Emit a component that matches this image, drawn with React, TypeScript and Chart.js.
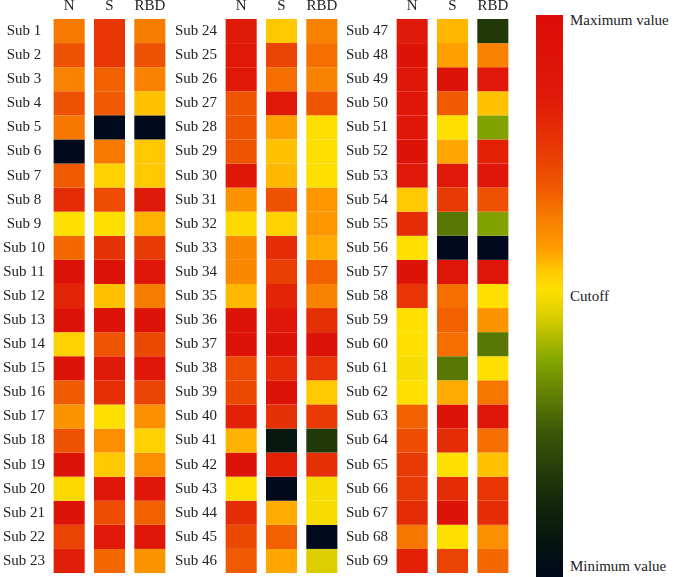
import React, { useEffect, useRef } from 'react';
import { Chart, registerables } from 'chart.js';

Chart.register(...registerables);

const columns = ['N', 'S', 'RBD'];

const subjects = [
  'Sub 1', 'Sub 2', 'Sub 3', 'Sub 4', 'Sub 5', 'Sub 6', 'Sub 7', 'Sub 8', 'Sub 9', 'Sub 10',
  'Sub 11', 'Sub 12', 'Sub 13', 'Sub 14', 'Sub 15', 'Sub 16', 'Sub 17', 'Sub 18', 'Sub 19', 'Sub 20',
  'Sub 21', 'Sub 22', 'Sub 23', 'Sub 24', 'Sub 25', 'Sub 26', 'Sub 27', 'Sub 28', 'Sub 29', 'Sub 30',
  'Sub 31', 'Sub 32', 'Sub 33', 'Sub 34', 'Sub 35', 'Sub 36', 'Sub 37', 'Sub 38', 'Sub 39', 'Sub 40',
  'Sub 41', 'Sub 42', 'Sub 43', 'Sub 44', 'Sub 45', 'Sub 46', 'Sub 47', 'Sub 48', 'Sub 49', 'Sub 50',
  'Sub 51', 'Sub 52', 'Sub 53', 'Sub 54', 'Sub 55', 'Sub 56', 'Sub 57', 'Sub 58', 'Sub 59', 'Sub 60',
  'Sub 61', 'Sub 62', 'Sub 63', 'Sub 64', 'Sub 65', 'Sub 66', 'Sub 67', 'Sub 68', 'Sub 69',
];

// Relative levels (0 = minimum value, 0.5 = cutoff, 1 = maximum value)
const nValues = [
  0.645, 0.71, 0.63, 0.71, 0.65, 0.0, 0.69, 0.8, 0.51, 0.67,
  0.93, 0.82, 0.93, 0.53, 0.93, 0.69, 0.6, 0.71, 0.93, 0.52,
  0.92, 0.74, 0.84,
  0.85, 0.87, 0.87, 0.7, 0.7, 0.7, 0.88, 0.6, 0.52, 0.62,
  0.62, 0.56, 0.93, 0.93, 0.72, 0.73, 0.83, 0.565, 0.92, 0.51,
  0.8, 0.73, 0.69,
  0.85, 0.92, 0.88, 0.89, 0.89, 0.92, 0.87, 0.545, 0.8, 0.51,
  0.92, 0.77, 0.51, 0.51, 0.5, 0.51, 0.68, 0.72, 0.76, 0.76,
  0.8, 0.65, 0.83,
];

const sValues = [
  0.77, 0.77, 0.68, 0.69, 0.0, 0.645, 0.53, 0.72, 0.51, 0.78,
  0.92, 0.55, 0.93, 0.7, 0.85, 0.79, 0.51, 0.61, 0.545, 0.88,
  0.72, 0.86, 0.67,
  0.545, 0.74, 0.66, 0.87, 0.58, 0.55, 0.56, 0.71, 0.53, 0.8,
  0.75, 0.82, 0.89, 0.92, 0.8, 0.92, 0.79, 0.07, 0.83, 0.0,
  0.57, 0.68, 0.575,
  0.56, 0.58, 0.92, 0.69, 0.51, 0.575, 0.87, 0.76, 0.31, 0.0,
  0.9, 0.66, 0.68, 0.66, 0.31, 0.57, 0.92, 0.8, 0.51, 0.8,
  0.92, 0.51, 0.74,
];

const rbdValues = [
  0.64, 0.71, 0.63, 0.55, 0.0, 0.545, 0.545, 0.85, 0.565, 0.76,
  0.9, 0.64, 0.93, 0.73, 0.9, 0.74, 0.61, 0.53, 0.61, 0.89,
  0.68, 0.89, 0.6,
  0.63, 0.66, 0.63, 0.7, 0.51, 0.51, 0.51, 0.595, 0.595, 0.57,
  0.68, 0.63, 0.79, 0.92, 0.77, 0.545, 0.76, 0.18, 0.79, 0.5,
  0.5, 0.0, 0.465,
  0.18, 0.63, 0.87, 0.55, 0.38, 0.83, 0.88, 0.71, 0.38, 0.0,
  0.9, 0.51, 0.6, 0.31, 0.51, 0.65, 0.88, 0.66, 0.55, 0.77,
  0.8, 0.61, 0.67,
];

const scaleLabels = ['Maximum value', 'Cutoff', 'Minimum value'];

const colorStops: [number, string][] = [
  [0, '#000a1c'],
  [0.06, '#061410'],
  [0.14, '#142a0a'],
  [0.26, '#3c5808'],
  [0.39, '#88a800'],
  [0.46, '#d8cc00'],
  [0.51, '#fde000'],
  [0.545, '#ffc800'],
  [0.58, '#ffa000'],
  [0.635, '#f88000'],
  [0.69, '#f05a00'],
  [0.76, '#e83a04'],
  [0.85, '#e01a08'],
  [1, '#dc0c08'],
];

function hexToRgb(h: string) {
  return [parseInt(h.slice(1, 3), 16), parseInt(h.slice(3, 5), 16), parseInt(h.slice(5, 7), 16)];
}

function colorFor(v: number) {
  const t = Math.max(0, Math.min(1, v));
  for (let i = 1; i < colorStops.length; i++) {
    const [v1, c1] = colorStops[i];
    if (t <= v1) {
      const [v0, c0] = colorStops[i - 1];
      const f = (t - v0) / (v1 - v0);
      const a = hexToRgb(c0);
      const b = hexToRgb(c1);
      const m = a.map((x, k) => Math.round(x + (b[k] - x) * f));
      return `rgb(${m[0]},${m[1]},${m[2]})`;
    }
  }
  return colorStops[colorStops.length - 1][1];
}

const FONT_FAMILY = '"Liberation Serif", "Times New Roman", serif';
const TEXT_COLOR = '#222';
const ROWS_PER_PANEL = 23;

function Panel({ start, left }: { start: number; left: number }) {
  const ref = useRef<HTMLCanvasElement>(null);
  useEffect(() => {
    const rows = subjects.slice(start, start + ROWS_PER_PANEL);
    const datasets = rows.map((name, i) => ({
      label: name,
      data: columns.map(() => 1),
      backgroundColor: [nValues[start + i], sValues[start + i], rbdValues[start + i]].map(colorFor),
      borderWidth: 0,
      barPercentage: 0.77,
      categoryPercentage: 1,
    }));
    const chart = new Chart(ref.current as HTMLCanvasElement, {
      type: 'bar',
      data: { labels: columns, datasets },
      options: {
        animation: false,
        responsive: false,
        devicePixelRatio: 1,
        layout: { padding: { left: 0, right: 0, top: 0, bottom: 4 } },
        plugins: { legend: { display: false }, tooltip: { enabled: false } },
        scales: {
          x: {
            position: 'top',
            stacked: true,
            grid: { display: false, drawTicks: false },
            border: { display: false },
            ticks: { font: { family: FONT_FAMILY, size: 15 }, color: TEXT_COLOR, padding: 4, maxRotation: 0 },
            afterFit: (s: any) => {
              s.height = 19;
              s.paddingLeft = 0;
              s.paddingRight = 0;
            },
          },
          y: {
            type: 'linear',
            stacked: true,
            min: 0,
            max: ROWS_PER_PANEL,
            reverse: true,
            grid: { display: false, drawTicks: false },
            border: { display: false },
            ticks: {
              font: { family: FONT_FAMILY, size: 15 },
              color: TEXT_COLOR,
              crossAlign: 'center',
              padding: 4,
              autoSkip: false,
              callback: (_v: any, idx: number) => rows[idx],
            },
            afterBuildTicks: (s: any) => {
              s.ticks = rows.map((_, i) => ({ value: i + 0.5 }));
            },
            afterFit: (s: any) => {
              s.width = 49;
              s.paddingTop = 0;
              s.paddingBottom = 0;
            },
          },
        },
      } as any,
    });
    return () => chart.destroy();
  }, [start]);
  return (
    <canvas
      ref={ref}
      width={170}
      height={577}
      style={{ position: 'absolute', left, top: 0, width: 170, height: 577 }}
    />
  );
}

function ColorBar() {
  const gradient = `linear-gradient(to top, ${colorStops
    .map(([v, c]) => `${c} ${(v * 100).toFixed(1)}%`)
    .join(', ')})`;
  const labelStyle: React.CSSProperties = {
    position: 'absolute',
    left: 570,
    fontFamily: FONT_FAMILY,
    fontSize: 15,
    lineHeight: '18px',
    color: TEXT_COLOR,
    whiteSpace: 'nowrap',
    transform: 'translateY(-50%)',
  };
  return (
    <>
      <div style={{ position: 'absolute', left: 536, top: 15, width: 27, height: 562, background: gradient }} />
      <span style={{ ...labelStyle, top: 20 }}>{scaleLabels[0]}</span>
      <span style={{ ...labelStyle, top: 296 }}>{scaleLabels[1]}</span>
      <span style={{ ...labelStyle, top: 566 }}>{scaleLabels[2]}</span>
    </>
  );
}

export default function App() {
  return (
    <div style={{ position: 'fixed', left: 0, top: 0, width: 677, height: 577, background: '#fff', overflow: 'hidden' }}>
      <Panel start={0} left={0} />
      <Panel start={23} left={172} />
      <Panel start={46} left={343} />
      <ColorBar />
    </div>
  );
}
